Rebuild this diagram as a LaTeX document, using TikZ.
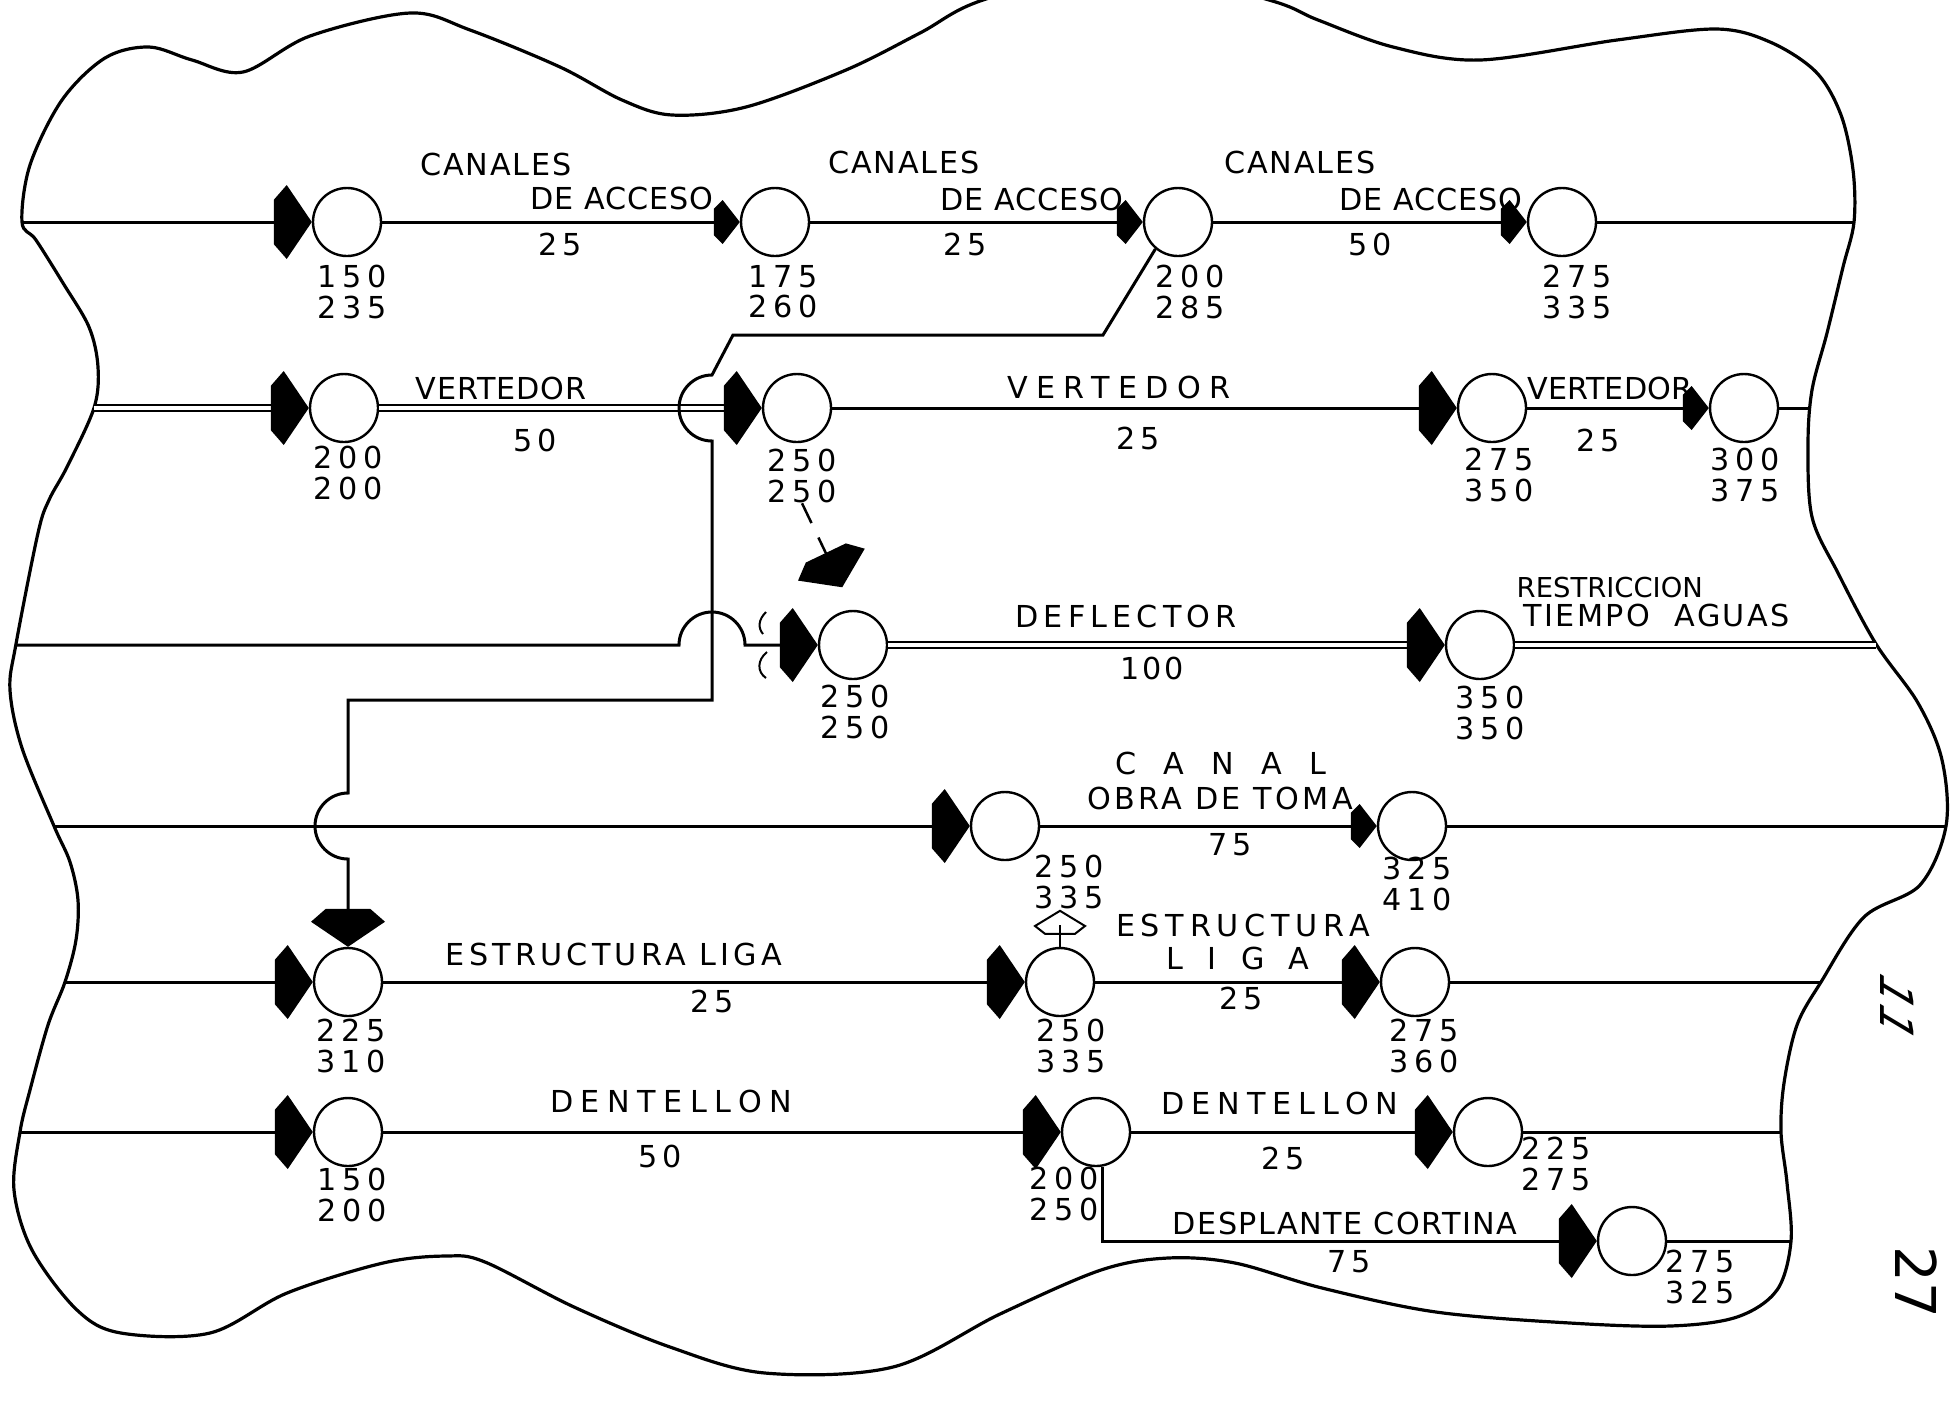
\documentclass[tikz,border=0pt]{standalone}
\usepackage{fontspec}
\setmainfont{DejaVu Sans}
\newfontfamily\lblfont{DejaVu Sans}
\usetikzlibrary{arrows.meta}
% filled arrow head with a cut back, as in the scan
\pgfdeclarearrow{
  name = Blk,
  parameters = {\the\pgfarrowlength,\the\pgfarrowwidth,\ifpgfarrowopen o\fi},
  setup code = {
    \pgfarrowssettipend{0pt}
    \pgfarrowssetbackend{-\pgfarrowlength}
    \pgfarrowssetlineend{-.6\pgfarrowlength}
    \pgfarrowssavethe\pgfarrowlength
    \pgfarrowssavethe\pgfarrowwidth
  },
  drawing code = {
    \pgfpathmoveto{\pgfqpoint{0pt}{0pt}}
    \pgfpathlineto{\pgfqpoint{-.66\pgfarrowlength}{.5\pgfarrowwidth}}
    \pgfpathlineto{\pgfqpoint{-\pgfarrowlength}{.3\pgfarrowwidth}}
    \pgfpathlineto{\pgfqpoint{-\pgfarrowlength}{-.3\pgfarrowwidth}}
    \pgfpathlineto{\pgfqpoint{-.66\pgfarrowlength}{-.5\pgfarrowwidth}}
    \pgfpathclose
    \ifpgfarrowopen\pgfusepathqstroke\else\pgfusepathqfill\fi
  },
  defaults = {length = 3.8mm, width = 7.4mm}
}

\begin{document}
\begin{tikzpicture}[x=.1mm,y=-.1mm,
 ev/.style={circle,draw,line width=.24mm,minimum size=6.8mm,inner sep=0pt},
 act/.style={line width=.3mm},
 dbl/.style={double,double distance=.4mm,line width=.24mm},
 big/.style={-{Blk}},
 sml/.style={-{Blk[length=2.6mm,width=4.4mm]}},
 lbl/.style={font={\fontsize{8.6}{9}\lblfont\addfontfeature{LetterSpace=#1}},inner sep=0pt},
 lbl/.default=0,
 num/.style={font={\fontsize{8.6}{8.6}\lblfont\addfontfeature{LetterSpace=18}},align=center,inner sep=0pt},
 cloud/.style={line width=.32mm}]
\useasboundingbox (0,0) rectangle (1950,1401);

% boundary of the sub-network
\draw[cloud] plot[smooth cycle,tension=.55] coordinates {
 (22,222) (30,165) (62,100) (105,58) (149,47) (192,60) (243,72) (310,36) (410,13)
 (470,30) (560,67) (622,100) (672,115) (746,107) (846,70) (920,33) (983,0) (1125,-35)
 (1269,0) (1318,20) (1393,47) (1480,60) (1617,40) (1716,29) (1770,42) (1816,72)
 (1841,115) (1853,170) (1854,222) (1843,267) (1827,333) (1812,390) (1808,445)
 (1812,517) (1838,573) (1876,644) (1918,703) (1942,760) (1946,826) (1920,885)
 (1864,917) (1821,982) (1797,1025) (1784,1083) (1781,1132) (1787,1183) (1791,1241)
 (1777,1290) (1737,1317) (1670,1326) (1570,1323) (1436,1312) (1322,1288) (1235,1263)
 (1168,1258) (1101,1270) (1000,1314) (893,1367) (765,1373) (670,1347) (574,1307)
 (485,1262) (446,1256) (383,1263) (287,1293) (210,1333) (121,1333) (77,1310)
 (32,1250) (14,1190) (20,1132) (30,1090) (48,1025) (65,982) (76,940) (78,900) (70,862)
 (54,826) (22,748) (10,690) (16,644) (38,533) (49,500) (67,467) (94,408) (98,367)
 (89,327) (63,283) (36,240)};

% events with early / late times
\foreach \n/\x/\y/\t/\lx/\ly in {
 ca1/347/222/{150\\235}/352/292, ca2/775/222/{175\\260}/783/292,
 ca3/1178/222/{200\\285}/1190/292, ca4/1562/222/{275\\335}/1577/292,
 ve1/344/408/{200\\200}/348/473, ve2/797/408/{250\\250}/802/476,
 ve3/1492/408/{275\\350}/1499/475, ve4/1744/408/{300\\375}/1745/475,
 de1/853/645/{250\\250}/855/712, de2/1480/645/{350\\350}/1490/713,
 ct1/1005/826/{250\\335}/1069/882, ct2/1412/826/{325\\410}/1417/884,
 el1/348/982/{225\\310}/351/1046, el2/1060/982/{250\\335}/1071/1046,
 el3/1415/982/{275\\360}/1424/1046,
 dn1/348/1132/{150\\200}/352/1195, dn2/1096/1132/{200\\250}/1064/1194,
 dn3/1488/1132/{225\\275}/1556/1164, dc1/1632/1241/{275\\325}/1700/1277}{
  \node[ev] (\n) at (\x,\y) {};
  \node[num] (n\n) at (\lx,\ly) {\t};}

% line ends on the boundary
\foreach \n/\x/\y in {l1/22/222, r1/1854/222, l2/94/408, r2/1810/408,
 l3/16/645, r3/1876/645, l4/54/826, r4/1945/826, l5/65/982, r5/1821/982,
 l6/20/1132, r6/1781/1132, r7/1791/1241}
  \coordinate (\n) at (\x,\y);

% activities
\draw[act,big] (l1) -- (ca1);
\draw[act,sml] (ca1) -- (ca2);
\draw[act,sml] (ca2) -- (ca3);
\draw[act,sml] (ca3) -- (ca4);
\draw[act] (ca4) -- (r1);
\draw[dbl,big] (l2) -- (ve1);
\draw[dbl,big] (ve1) -- (ve2);
\draw[act,big] (ve2) -- (ve3);
\draw[act,sml] (ve3) -- (ve4);
\draw[act] (ve4) -- (r2);
\draw[act,big] (l3) -- (679,645) arc[start angle=180,end angle=0,radius=3.3mm] -- (de1);
\draw[dbl,big] (de1) -- (de2);
\draw[dbl] (de2) -- (r3);
\draw[act,big] (l4) -- (ct1);
\draw[act,sml] (ct1) -- (ct2);
\draw[act] (ct2) -- (r4);
\draw[act,big] (l5) -- (el1);
\draw[act,big] (el1) -- (el2);
\draw[act,big] (el2) -- (el3);
\draw[act] (el3) -- (r5);
\draw[act,big] (l6) -- (dn1);
\draw[act,big] (dn1) -- (dn2);
\draw[act,big] (dn2) -- (dn3);
\draw[act] (dn3) -- (r6);
\draw[act,big] (dn2.-80) |- (dc1);
\draw[act] (dc1) -- (r7);

% dependencies
\draw[act,big] (ca3.230) -- (1103,335) -- (733,335) -- (712,375)
  arc[start angle=90,end angle=270,radius=3.3mm] -- (712,700) -- (348,700) -- (348,793)
  arc[start angle=90,end angle=270,radius=3.3mm] -- (el1);
\draw[line width=.25mm,dash pattern=on 2.2mm off 1.6mm,big,shorten >=2.5mm] (nve2.south) -- (de1.north);
\draw[line width=.2mm,-{Blk[open,length=2.3mm,width=5mm]}] (el2.north) -- ++(0,-36);
\draw[line width=.2mm] (766,612) .. controls (758,620) and (758,628) .. (763,634);
\draw[line width=.2mm] (767,652) .. controls (757,660) and (757,672) .. (766,678);

% activity names and durations
\foreach \t/\x/\y/\s [count=\k] in {CANALES/496/164/6, {DE ACCESO}/622/198/3, 25/560/244/17,
 CANALES/904/162/6, {DE ACCESO}/1032/199/3, 25/965/244/17,
 CANALES/1300/162/6, {DE ACCESO}/1431/199/3, 50/1370/244/17,
 VERTEDOR/501/388/3, 50/535/440/17, VERTEDOR/1119/387/28, 25/1138/438/17,
 VERTEDOR/1610/388/0, 25/1598/440/17,
 DEFLECTOR/1126/616/17, 100/1152/668/10,
 {C A N A L}/1221/763/58, {OBRA DE TOMA}/1220/798/11, 75/1230/845/17,
 {ESTRUCTURA LIGA}/614/954/14, 25/712/1001/17,
 ESTRUCTURA/1243/925/19, {L I G A}/1238/958/49, 25/1241/998/17,
 DENTELLON/671/1101/25, 50/660/1156/17, DENTELLON/1280/1103/23, 25/1283/1158/17,
 {DESPLANTE  CORTINA}/1345/1223/5, 75/1349/1262/17}
  \node[lbl=\s] (a\k) at (\x,\y) {\t};
\node[lbl,anchor=west,font={\fontsize{7.8}{9}\lblfont}] (rst1) at (1516,588) {RESTRICCION};
\node[lbl=8,anchor=west] (rst2) at (1523,615) {TIEMPO\ \ AGUAS};

% margin marks
\node[font=\fontsize{13}{13}\selectfont,rotate=-90,xslant=.6] (pg1) at (1897,1008) {11};
\node[font=\fontsize{16}{16}\selectfont,rotate=-90] (pg2) at (1916,1282) {27};
\end{tikzpicture}
\end{document}
